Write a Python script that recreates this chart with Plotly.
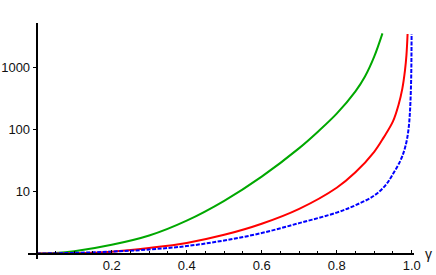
import plotly.graph_objects as go

# Data (gamma, value)
green_x = [0.0, 0.05, 0.1, 0.2, 0.3, 0.4, 0.5, 0.6, 0.7, 0.75, 0.8, 0.85, 0.875, 0.9, 0.922]
green_y = [1.0, 1.018, 1.084, 1.38, 1.95, 3.39, 7.08, 17.4, 50.1, 92.3, 180, 412, 708, 1496, 3550]

red_x = [0.0, 0.1, 0.2, 0.3, 0.4, 0.5, 0.6, 0.7, 0.8, 0.85, 0.9, 0.925, 0.95, 0.965, 0.975, 0.982, 0.986, 0.989]
red_y = [1.0, 1.009, 1.072, 1.23, 1.48, 2.0, 3.02, 5.25, 11.5, 20.4, 43.7, 74, 135, 251, 457, 891, 1585, 3470]

blue_x = [0.0, 0.1, 0.2, 0.3, 0.4, 0.5, 0.6, 0.7, 0.8, 0.85, 0.9, 0.93, 0.95, 0.97, 0.98, 0.987, 0.992, 0.995, 0.997, 0.9985, 0.9993, 0.9997]
blue_y = [1.0, 1.023, 1.072, 1.161, 1.318, 1.622, 2.138, 3.09, 4.57, 6.0, 8.6, 12.6, 19.1, 31.6, 45.7, 67.6, 107, 178, 316, 631, 1413, 3470]

x_ticks = [0.2, 0.4, 0.6, 0.8, 1.0]
x_tick_labels = ["0.2", "0.4", "0.6", "0.8", "1.0"]
y_ticks = [10, 100, 1000]
y_tick_labels = ["10", "100", "1000"]

W, H = 436, 275
ml, mr, mt, mb = 28, 22, 23, 16
pw, ph = W - ml - mr, H - mt - mb
xscale = 375.0
x0px = 8.7
xmin = -x0px / xscale
xmax = (pw - x0px) / xscale
dec = 62.0
one_from_top = 230.5
ytop = one_from_top / dec
ybot = -(ph - one_from_top) / dec
xaxis_pos = (ph - one_from_top) / ph
yaxis_pos = x0px / pw

fig = go.Figure()
fig.add_trace(go.Scatter(x=green_x, y=green_y, mode="lines",
                         line=dict(color="#00a800", width=2, shape="spline", smoothing=1.0),
                         showlegend=False, hoverinfo="skip"))
fig.add_trace(go.Scatter(x=red_x, y=red_y, mode="lines",
                         line=dict(color="#ff0000", width=2, shape="spline", smoothing=1.0),
                         showlegend=False, hoverinfo="skip"))
fig.add_trace(go.Scatter(x=blue_x, y=blue_y, mode="lines",
                         line=dict(color="#0000ff", width=2, dash="4px,1.5px", shape="spline", smoothing=1.0),
                         showlegend=False, hoverinfo="skip"))

tfont = dict(family="Arial", size=13, color="#111111")

fig.update_layout(
    width=W, height=H,
    margin=dict(l=ml, r=mr, t=mt, b=mb, pad=0, autoexpand=False),
    paper_bgcolor="white", plot_bgcolor="white",
    font=tfont,
    xaxis=dict(range=[xmin, xmax], showgrid=False, zeroline=False, automargin=False,
               showline=True, linecolor="#000000", linewidth=2,
               anchor="free", position=xaxis_pos,
               tickmode="array", tickvals=x_ticks, ticktext=x_tick_labels,
               ticks="inside", ticklen=3, tickwidth=1, tickcolor="#000000",
               minor=dict(dtick=0.05, ticks="inside", ticklen=2, tickcolor="#000000"),
               tickfont=tfont),
    yaxis=dict(type="log", range=[ybot, ytop], showgrid=False, zeroline=False, automargin=False,
               showline=True, linecolor="#000000", linewidth=2,
               anchor="free", position=yaxis_pos,
               tickmode="array", tickvals=y_ticks, ticktext=y_tick_labels,
               ticks="outside", ticklen=3, tickwidth=1, tickcolor="#000000",
               tickfont=tfont),
    annotations=[dict(x=(428.6 - ml) / pw, y=xaxis_pos, xref="paper", yref="paper", text="γ",
                      showarrow=False, xanchor="center", yanchor="middle",
                      font=dict(family="Arial", size=14, color="#111111"))],
)

fig.write_html("out.html", config={"displayModeBar": False},
               post_script="document.body.style.margin='0';")
